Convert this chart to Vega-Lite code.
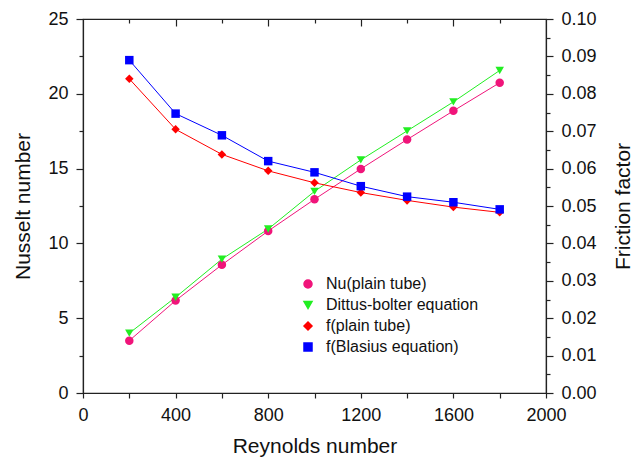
{
  "$schema": "https://vega.github.io/schema/vega-lite/v6.json",
  "width": 463,
  "height": 374,
  "autosize": "none",
  "padding": {"left": 83, "top": 19, "right": 94, "bottom": 66},
  "background": "white",
  "config": {
    "font": "Liberation Sans",
    "view": {"stroke": "#222222", "strokeWidth": 1.2},
    "axis": {
      "grid": false,
      "domainColor": "#222222",
      "domainWidth": 1.2,
      "tickColor": "#222222",
      "tickWidth": 1.2,
      "labelColor": "#111111",
      "titleColor": "#111111",
      "labelFont": "Liberation Sans",
      "titleFont": "Liberation Sans",
      "labelFontSize": 18,
      "titleFontSize": 21,
      "titleFontWeight": "normal",
      "titleBaseline": "middle",
      "labelFlush": false
    },
    "legend": {
      "labelFontSize": 16,
      "labelFont": "Liberation Sans",
      "labelColor": "#111111"
    }
  },
  "data": {
    "values": [
      {"Re": 200, "series": "Nu(plain tube)", "group": "Nu", "value": 3.5},
      {"Re": 400, "series": "Nu(plain tube)", "group": "Nu", "value": 6.18},
      {"Re": 600, "series": "Nu(plain tube)", "group": "Nu", "value": 8.57},
      {"Re": 800, "series": "Nu(plain tube)", "group": "Nu", "value": 10.83},
      {"Re": 1000, "series": "Nu(plain tube)", "group": "Nu", "value": 12.95},
      {"Re": 1200, "series": "Nu(plain tube)", "group": "Nu", "value": 14.98},
      {"Re": 1400, "series": "Nu(plain tube)", "group": "Nu", "value": 16.94},
      {"Re": 1600, "series": "Nu(plain tube)", "group": "Nu", "value": 18.86},
      {"Re": 1800, "series": "Nu(plain tube)", "group": "Nu", "value": 20.74},
      {"Re": 200, "series": "Dittus-bolter equation", "group": "Nu", "value": 4.0},
      {"Re": 400, "series": "Dittus-bolter equation", "group": "Nu", "value": 6.4},
      {"Re": 600, "series": "Dittus-bolter equation", "group": "Nu", "value": 8.95},
      {"Re": 800, "series": "Dittus-bolter equation", "group": "Nu", "value": 10.96},
      {"Re": 1000, "series": "Dittus-bolter equation", "group": "Nu", "value": 13.48},
      {"Re": 1200, "series": "Dittus-bolter equation", "group": "Nu", "value": 15.58},
      {"Re": 1400, "series": "Dittus-bolter equation", "group": "Nu", "value": 17.52},
      {"Re": 1600, "series": "Dittus-bolter equation", "group": "Nu", "value": 19.46},
      {"Re": 1800, "series": "Dittus-bolter equation", "group": "Nu", "value": 21.56},
      {"Re": 200, "series": "f(plain tube)", "group": "f", "value": 0.084},
      {"Re": 400, "series": "f(plain tube)", "group": "f", "value": 0.0705},
      {"Re": 600, "series": "f(plain tube)", "group": "f", "value": 0.0638},
      {"Re": 800, "series": "f(plain tube)", "group": "f", "value": 0.0594},
      {"Re": 1000, "series": "f(plain tube)", "group": "f", "value": 0.0562},
      {"Re": 1200, "series": "f(plain tube)", "group": "f", "value": 0.0536},
      {"Re": 1400, "series": "f(plain tube)", "group": "f", "value": 0.0515},
      {"Re": 1600, "series": "f(plain tube)", "group": "f", "value": 0.0497},
      {"Re": 1800, "series": "f(plain tube)", "group": "f", "value": 0.0483},
      {"Re": 200, "series": "f(Blasius equation)", "group": "f", "value": 0.089},
      {"Re": 400, "series": "f(Blasius equation)", "group": "f", "value": 0.0747},
      {"Re": 600, "series": "f(Blasius equation)", "group": "f", "value": 0.0689},
      {"Re": 800, "series": "f(Blasius equation)", "group": "f", "value": 0.062},
      {"Re": 1000, "series": "f(Blasius equation)", "group": "f", "value": 0.059},
      {"Re": 1200, "series": "f(Blasius equation)", "group": "f", "value": 0.0553},
      {"Re": 1400, "series": "f(Blasius equation)", "group": "f", "value": 0.0525},
      {"Re": 1600, "series": "f(Blasius equation)", "group": "f", "value": 0.051},
      {"Re": 1800, "series": "f(Blasius equation)", "group": "f", "value": 0.0491}
    ]
  },
  "layer": [
    {
      "transform": [{"filter": "datum.group === 'Nu'"}],
      "mark": {"type": "line", "strokeWidth": 1, "point": {"filled": true, "opacity": 1, "size": 72}},
      "encoding": {
        "x": {
          "field": "Re", "type": "quantitative",
          "scale": {"domain": [0, 2000]},
          "axis": {
            "orient": "bottom",
            "title": "Reynolds number",
            "values": [0, 200, 400, 600, 800, 1000, 1200, 1400, 1600, 1800, 2000],
            "format": "d",
            "labelExpr": "datum.value % 400 === 0 ? datum.label : ''",
            "labelFontSize": 18,
            "labelFlush": false,
            "tickSize": 5,
            "labelPadding": 8,
            "titleX": 231.5,
            "titleY": 53
          }
        },
        "y": {
          "field": "value", "type": "quantitative",
          "scale": {"domain": [0, 25]},
          "axis": {
            "orient": "left",
            "title": "Nusselt number",
            "values": [0, 2.5, 5, 7.5, 10, 12.5, 15, 17.5, 20, 22.5, 25],
            "labelExpr": "datum.value % 5 === 0 ? datum.label : ''",
            "labelFontSize": 18,
            "labelFlush": false,
            "tickSize": {"condition": {"test": "datum.value % 5 === 0", "value": 7}, "value": 4},
            "labelPadding": 8,
            "titleX": -60,
            "titleY": 187
          }
        },
        "color": {
          "field": "series", "type": "nominal", "title": null,
          "scale": {
            "domain": ["Nu(plain tube)", "Dittus-bolter equation", "f(plain tube)", "f(Blasius equation)"],
            "range": ["#f0147a", "#22ee22", "#ff0000", "#0000ff"]
          },
          "legend": {
            "orient": "none", "legendX": 217, "legendY": 257,
            "symbolSize": 64, "rowPadding": 5, "labelOffset": 10, "labelFontSize": 16
          }
        },
        "shape": {
          "field": "series", "type": "nominal", "title": null,
          "scale": {
            "domain": ["Nu(plain tube)", "Dittus-bolter equation", "f(plain tube)", "f(Blasius equation)"],
            "range": ["circle", "triangle-down", "diamond", "square"]
          },
          "legend": {
            "orient": "none", "legendX": 217, "legendY": 257,
            "symbolSize": 64, "rowPadding": 5, "labelOffset": 10, "labelFontSize": 16
          }
        }
      }
    },
    {
      "transform": [{"filter": "datum.group === 'f'"}],
      "mark": {"type": "line", "strokeWidth": 1, "point": {"filled": true, "opacity": 1, "size": 72}},
      "encoding": {
        "x": {
          "field": "Re", "type": "quantitative",
          "scale": {"domain": [0, 2000]},
          "axis": {
            "orient": "top",
            "title": null,
            "labels": false,
            "domain": false,
            "values": [200, 400, 600, 800, 1000, 1200, 1400, 1600, 1800],
            "tickSize": {"condition": {"test": "datum.value % 400 === 0", "value": -7}, "value": -4}
          }
        },
        "y": {
          "field": "value", "type": "quantitative",
          "scale": {"domain": [0, 0.1]},
          "axis": {
            "orient": "right",
            "title": "Friction factor",
            "titleAngle": 270,
            "values": [0, 0.005, 0.01, 0.015, 0.02, 0.025, 0.03, 0.035, 0.04, 0.045, 0.05, 0.055, 0.06, 0.065, 0.07, 0.075, 0.08, 0.085, 0.09, 0.095, 0.1],
            "format": ".2f",
            "labelExpr": "round(datum.value * 1000) % 10 === 0 ? datum.label : ''",
            "labelFontSize": 18,
            "labelFlush": false,
            "tickSize": {"condition": {"test": "round(datum.value * 1000) % 10 === 0", "value": 7}, "value": 4},
            "labelPadding": 8,
            "titleX": 77,
            "titleY": 187
          }
        },
        "color": {
          "field": "series", "type": "nominal", "title": null,
          "scale": {
            "domain": ["Nu(plain tube)", "Dittus-bolter equation", "f(plain tube)", "f(Blasius equation)"],
            "range": ["#f0147a", "#22ee22", "#ff0000", "#0000ff"]
          },
          "legend": {
            "orient": "none", "legendX": 217, "legendY": 257,
            "symbolSize": 64, "rowPadding": 5, "labelOffset": 10, "labelFontSize": 16
          }
        },
        "shape": {
          "field": "series", "type": "nominal", "title": null,
          "scale": {
            "domain": ["Nu(plain tube)", "Dittus-bolter equation", "f(plain tube)", "f(Blasius equation)"],
            "range": ["circle", "triangle-down", "diamond", "square"]
          },
          "legend": {
            "orient": "none", "legendX": 217, "legendY": 257,
            "symbolSize": 64, "rowPadding": 5, "labelOffset": 10, "labelFontSize": 16
          }
        }
      }
    }
  ],
  "resolve": {"scale": {"y": "independent"}, "axis": {"x": "independent"}}
}
